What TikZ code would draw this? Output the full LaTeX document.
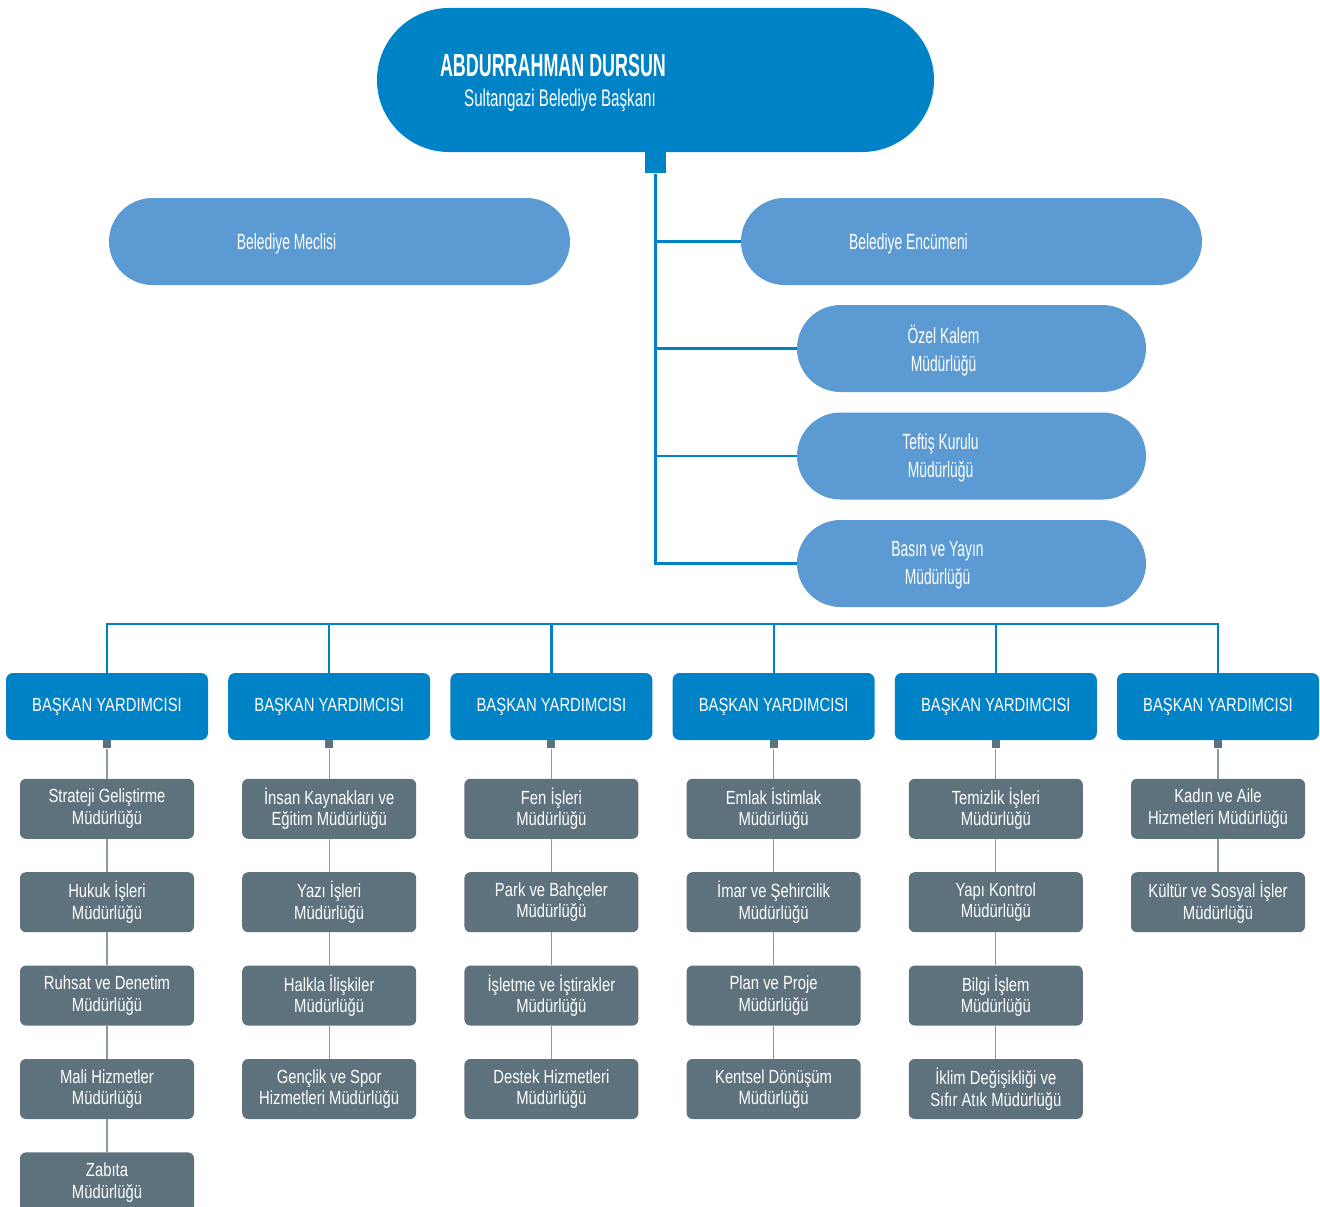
\documentclass[tikz,border=0pt]{standalone}
\usepackage{fontspec}
\setmainfont{Liberation Sans}
\newfontfamily\condfont{Liberation Sans}[FakeStretch=0.78]
\newfontfamily\pillfont{Liberation Sans}[FakeStretch=0.63]
\newfontfamily\namefont{Liberation Sans}[FakeStretch=0.56]
\usetikzlibrary{positioning,calc}
\definecolor{topblue}{HTML}{0083C6}
\definecolor{lightblue}{HTML}{5B9AD2}
\definecolor{slate}{HTML}{5E727E}
\definecolor{wire}{HTML}{8A9AA4}

\tikzset{
  pill/.style={fill=lightblue, rounded corners=43.5pt, minimum height=87pt, inner sep=0pt},
  pilltext/.style={text=white, align=center, font=\pillfont\fontsize{22}{28}\selectfont},
  bybox/.style={fill=topblue, rounded corners=7pt, minimum width=202pt, minimum height=67pt,
    inner sep=0pt, text=white, font=\condfont\fontsize{19}{22}\selectfont},
  dept/.style={fill=slate, rounded corners=6pt, minimum width=174pt, minimum height=60pt,
    inner sep=0pt, text=white, align=center, font=\condfont\fontsize{19}{21.5}\selectfont},
  tab/.style={fill=slate, minimum size=8pt, inner sep=0pt, anchor=north},
  link/.style={topblue, line width=2.2pt},
  sublink/.style={wire, line width=1.2pt}
}

\begin{document}
\begin{tikzpicture}[x=1pt, y=-1pt, node distance=33pt]
\useasboundingbox (0,0) rectangle (1320,1207);

\node[pill, fill=topblue, minimum width=557pt, minimum height=144pt, rounded corners=72pt] (mayor) at (655.5,80) {};
\node[text=white, font=\namefont\bfseries\fontsize{32}{36}\selectfont] (name) at (553,65) {ABDURRAHMAN DURSUN};
\node[pilltext, font=\pillfont\fontsize{24}{28}\selectfont] (title) at (560,100) {Sultangazi Belediye Başkanı};
\node[fill=topblue, minimum size=21pt, inner sep=0pt, anchor=north] (knob) at (mayor.south) {};

\node[pill, minimum width=461pt] (meclis) at (339.5,241.5) {};
\node[pilltext] (meclistext) at ($(meclis)+(-53,2)$) {Belediye Meclisi};
\node[pill, minimum width=461pt] (encumen) at (971.5,241.5) {};
\node[pilltext] (encumentext) at ($(encumen)+(-63,2)$) {Belediye Encümeni};
\node[pill, minimum width=349pt] (kalem) at (971.5,348.5) {};
\node[pilltext] (kalemtext) at ($(kalem)+(-28,2)$) {Özel Kalem\\Müdürlüğü};
\node[pill, minimum width=349pt] (teftis) at (971.5,456) {};
\node[pilltext] (teftistext) at ($(teftis)+(-31,2)$) {Teftiş Kurulu\\Müdürlüğü};
\node[pill, minimum width=349pt] (basin) at (971.5,563.5) {};
\node[pilltext] (basintext) at ($(basin)+(-34,2)$) {Basın ve Yayın\\Müdürlüğü};

\foreach \n in {encumen,kalem,teftis,basin}
  \draw[link] (knob) |- (\n);

\foreach \i in {1,...,6} {
  \node[bybox] (by\i) at ({107+222.2*(\i-1)},706.5) {BAŞKAN YARDIMCISI};
  \node[tab] (t\i) at (by\i.south) {};
}
\coordinate (bus) at (0,624);
\draw[link] (by1.north) |- (bus -| by6.north) -- (by6.north);
\foreach \i in {2,...,5}
  \draw[link] (by\i.north) -- (by\i.north |- bus);

\node[dept, below=30pt of t1] (d11) {Strateji Geliştirme\\Müdürlüğü};
\node[dept, below=of d11] (d12) {Hukuk İşleri\\Müdürlüğü};
\node[dept, below=of d12] (d13) {Ruhsat ve Denetim\\Müdürlüğü};
\node[dept, below=of d13] (d14) {Mali Hizmetler\\Müdürlüğü};
\node[dept, below=of d14] (d15) {Zabıta\\Müdürlüğü};

\node[dept, below=30pt of t2] (d21) {İnsan Kaynakları ve\\Eğitim Müdürlüğü};
\node[dept, below=of d21] (d22) {Yazı İşleri\\Müdürlüğü};
\node[dept, below=of d22] (d23) {Halkla İlişkiler\\Müdürlüğü};
\node[dept, below=of d23] (d24) {Gençlik ve Spor\\Hizmetleri Müdürlüğü};

\node[dept, below=30pt of t3] (d31) {Fen İşleri\\Müdürlüğü};
\node[dept, below=of d31] (d32) {Park ve Bahçeler\\Müdürlüğü};
\node[dept, below=of d32] (d33) {İşletme ve İştirakler\\Müdürlüğü};
\node[dept, below=of d33] (d34) {Destek Hizmetleri\\Müdürlüğü};

\node[dept, below=30pt of t4] (d41) {Emlak İstimlak\\Müdürlüğü};
\node[dept, below=of d41] (d42) {İmar ve Şehircilik\\Müdürlüğü};
\node[dept, below=of d42] (d43) {Plan ve Proje\\Müdürlüğü};
\node[dept, below=of d43] (d44) {Kentsel Dönüşüm\\Müdürlüğü};

\node[dept, below=30pt of t5] (d51) {Temizlik İşleri\\Müdürlüğü};
\node[dept, below=of d51] (d52) {Yapı Kontrol\\Müdürlüğü};
\node[dept, below=of d52] (d53) {Bilgi İşlem\\Müdürlüğü};
\node[dept, below=of d53] (d54) {İklim Değişikliği ve\\Sıfır Atık Müdürlüğü};

\node[dept, below=30pt of t6] (d61) {Kadın ve Aile\\Hizmetleri Müdürlüğü};
\node[dept, below=of d61] (d62) {Kültür ve Sosyal İşler\\Müdürlüğü};

\draw[sublink] (t1) -- (d11) (d11) -- (d12) (d12) -- (d13) (d13) -- (d14) (d14) -- (d15);
\draw[sublink] (t2) -- (d21) (d21) -- (d22) (d22) -- (d23) (d23) -- (d24);
\draw[sublink] (t3) -- (d31) (d31) -- (d32) (d32) -- (d33) (d33) -- (d34);
\draw[sublink] (t4) -- (d41) (d41) -- (d42) (d42) -- (d43) (d43) -- (d44);
\draw[sublink] (t5) -- (d51) (d51) -- (d52) (d52) -- (d53) (d53) -- (d54);
\draw[sublink] (t6) -- (d61) (d61) -- (d62);
\end{tikzpicture}
\end{document}
